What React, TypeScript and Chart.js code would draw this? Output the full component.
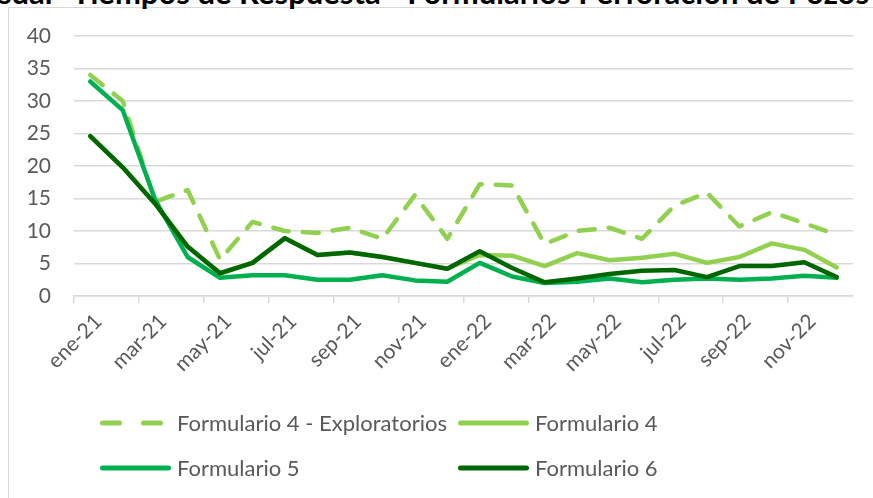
import React, { useEffect, useRef } from "react";
import { Chart, registerables } from "chart.js";

Chart.register(...registerables);

const categories = [
  "ene-21", "feb-21", "mar-21", "abr-21", "may-21", "jun-21", "jul-21", "ago-21",
  "sep-21", "oct-21", "nov-21", "dic-21", "ene-22", "feb-22", "mar-22", "abr-22",
  "may-22", "jun-22", "jul-22", "ago-22", "sep-22", "oct-22", "nov-22", "dic-22",
];

const formulario4Exploratorios = [
  34, 30, 14.5, 16.3, 5.6, 11.4, 10.0, 9.7, 10.5, 8.8, 15.5, 8.8,
  17.2, 17.0, 8.0, 10.0, 10.5, 8.8, 13.9, 15.9, 10.7, 12.9, 11.2, 9.4,
];
const formulario4 = [
  24.6, 19.8, 14.2, 7.6, 3.5, 5.1, 8.9, 6.3, 6.7, 6.0, 5.1, 4.2,
  6.3, 6.2, 4.6, 6.6, 5.5, 5.9, 6.5, 5.1, 6.0, 8.1, 7.1, 4.4,
];
const formulario5 = [
  33.0, 28.6, 14.8, 6.0, 2.8, 3.2, 3.2, 2.5, 2.5, 3.2, 2.4, 2.2,
  5.1, 3.0, 2.0, 2.2, 2.7, 2.1, 2.5, 2.7, 2.5, 2.7, 3.1, 2.8,
];
const formulario6 = [
  24.6, 19.8, 14.2, 7.6, 3.5, 5.1, 8.9, 6.3, 6.7, 6.0, 5.1, 4.2,
  6.9, 4.3, 2.1, 2.7, 3.4, 3.9, 4.0, 2.9, 4.6, 4.6, 5.2, 2.9,
];

const yTicks = [0, 5, 10, 15, 20, 25, 30, 35, 40];

const C_EXP = "#92D050";
const C_F4 = "#92D050";
const C_F5 = "#00B050";
const C_F6 = "#006600";
const GRID = "#D9D9D9";
const TEXT = "#595959";
const FONT = "Lato, 'Open Sans', sans-serif";

const legendItems = [
  { label: "Formulario 4 - Exploratorios", color: C_EXP, dashed: true, x: 100, y: 423 },
  { label: "Formulario 4", color: C_F4, dashed: false, x: 458, y: 423 },
  { label: "Formulario 5", color: C_F5, dashed: false, x: 100, y: 468 },
  { label: "Formulario 6", color: C_F6, dashed: false, x: 458, y: 468 },
];

export default function App() {
  const ref = useRef<HTMLCanvasElement | null>(null);

  useEffect(() => {
    document.body.style.margin = "0";
    document.body.style.overflow = "hidden";
    const canvas = ref.current;
    if (!canvas) return;
    const common = {
      pointRadius: 0,
      pointHoverRadius: 0,
      borderWidth: 4.5,
      tension: 0,
      fill: false,
      borderJoinStyle: "round" as const,
      borderCapStyle: "round" as const,
    };
    const chart = new Chart(canvas, {
      type: "line",
      data: {
        labels: categories,
        datasets: [
          { ...common, label: "Formulario 4 - Exploratorios", data: formulario4Exploratorios, borderColor: C_EXP, backgroundColor: C_EXP, borderDash: [16, 14], order: 3 },
          { ...common, label: "Formulario 4", data: formulario4, borderColor: C_F4, backgroundColor: C_F4, order: 2 },
          { ...common, label: "Formulario 5", data: formulario5, borderColor: C_F5, backgroundColor: C_F5, order: 1 },
          { ...common, label: "Formulario 6", data: formulario6, borderColor: C_F6, backgroundColor: C_F6, order: 0 },
        ],
      },
      options: {
        responsive: false,
        animation: false,
        devicePixelRatio: 1,
        layout: { padding: { left: 0, right: 20, top: 36, bottom: 0 } },
        plugins: {
          legend: { display: false },
          title: { display: false },
          tooltip: { enabled: false },
        },
        scales: {
          x: {
            type: "category",
            offset: true,
            afterFit: (scale: any) => {
              scale.height = 498 - 296;
            },
            grid: {
              offset: true,
              drawOnChartArea: false,
              drawTicks: true,
              tickLength: 7,
              lineWidth: 1.5,
              color: (ctx: any) => (ctx.index % 2 === 0 ? GRID : "rgba(0,0,0,0)"),
            },
            border: { display: true, color: GRID, width: 1.5 },
            ticks: {
              autoSkip: false,
              maxRotation: 45,
              minRotation: 45,
              padding: 6,
              labelOffset: 8,
              color: TEXT,
              font: { family: FONT, size: 21 },
              callback: (_v: any, i: number) => (i % 2 === 0 ? categories[i] : ""),
            },
          },
          y: {
            min: 0,
            max: 40,
            afterFit: (scale: any) => {
              scale.width = 74;
            },
            afterBuildTicks: (scale: any) => {
              scale.ticks = yTicks.map((v) => ({ value: v }));
            },
            grid: { color: GRID, lineWidth: 1.5, drawTicks: false },
            border: { display: false },
            ticks: {
              padding: 23,
              color: TEXT,
              font: { family: FONT, size: 21 },
            },
          },
        },
      },
    });
    return () => chart.destroy();
  }, []);

  const titleStyle: React.CSSProperties = {
    position: "absolute",
    top: -23,
    whiteSpace: "nowrap",
    fontFamily: FONT,
    fontWeight: 700,
    fontSize: 31,
    lineHeight: "31px",
    color: "#000",
  };

  return (
    <div style={{ position: "relative", width: 873, height: 498, overflow: "hidden", background: "#fff" }}>
      <div
        style={{
          position: "absolute",
          left: 8,
          top: 7,
          width: 900,
          height: 520,
          borderLeft: `1.5px solid ${GRID}`,
          borderTop: `1.5px solid ${GRID}`,
          boxSizing: "border-box",
        }}
      />
      <div style={{ ...titleStyle, right: 873 - 64 }}>Promedio Mensual-</div>
      <div style={{ ...titleStyle, left: 72 }}>
        Tiempos de Respuesta - Formularios Perforación de Pozos
      </div>
      <canvas ref={ref} width={873} height={498} style={{ position: "absolute", left: 0, top: 0 }} />
      {legendItems.map((it) => (
        <div key={it.label}>
          <svg
            width={80}
            height={12}
            style={{ position: "absolute", left: it.x - 4, top: it.y - 6 }}
          >
            <line
              x1={4 + 2.5}
              y1={6}
              x2={4 + 71 - 2.5}
              y2={6}
              stroke={it.color}
              strokeWidth={5}
              strokeLinecap="round"
              strokeDasharray={it.dashed ? "17 24" : undefined}
            />
          </svg>
          <div
            style={{
              position: "absolute",
              left: it.x + 77,
              top: it.y - 15,
              height: 30,
              lineHeight: "30px",
              whiteSpace: "nowrap",
              fontFamily: FONT,
              fontSize: 22,
              color: TEXT,
            }}
          >
            {it.label}
          </div>
        </div>
      ))}
    </div>
  );
}
